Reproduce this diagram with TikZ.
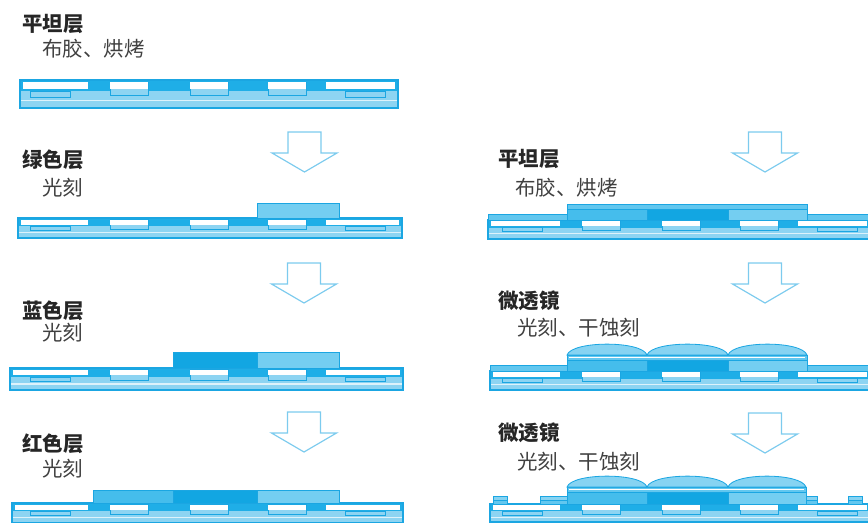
\documentclass[tikz,border=0pt]{standalone}
\usepackage{fontspec}
\newfontfamily\cjk{Noto Sans CJK SC}
\usetikzlibrary{positioning}

\definecolor{edge}{HTML}{1BA6E2}
\definecolor{topfill}{HTML}{1FAEE7}
\definecolor{lowfill}{HTML}{8DD4F2}
\definecolor{cfred}{HTML}{45BDEC}
\definecolor{cfblue}{HTML}{12A6E2}
\definecolor{cfgreen}{HTML}{74CEF1}
\definecolor{planar}{HTML}{62C7EF}
\definecolor{lensfill}{HTML}{86D3F2}
\definecolor{flowline}{HTML}{7CCBEE}

\tikzset{
  title/.style={anchor=west, inner sep=0pt, text=black!85,
    font=\cjk\bfseries\fontsize{17.5}{18}\selectfont},
  note/.style={anchor=west, inner sep=0pt, text=black!75,
    font=\cjk\fontsize{17.5}{18}\selectfont},
  thinedge/.style={draw=edge, line width=0.5pt},
  layer/.style={draw=edge, line width=0.7pt},
  redcf/.style={layer, fill=cfred},
  bluecf/.style={layer, fill=cfblue},
  greencf/.style={layer, fill=cfgreen},
  planarcoat/.style={layer, fill=planar},
  lens/.style={layer, fill=lensfill},
  flow/.style={draw=flowline, fill=white, line width=1pt, line join=miter},
}

% wafer section: left x, right x, top y, pad offset, height scale
\newcommand\substrate[5]{%
  \begin{scope}[shift={(0,#3)}, yscale=#5]
    \fill[lowfill] (#1,0) rectangle (#2,20);
    \fill[topfill] (#1,0) rectangle (#2,8);
    \fill[white!70!lowfill] (#1,14) rectangle (#2,15);
    \draw[thinedge] (#4+30,8) rectangle (#4+70,12);
    \draw[thinedge] (#4+345,8) rectangle (#4+385,12);
    \foreach \a in {110,190,268}{
      \filldraw[thinedge, fill=lowfill] (#4+\a,1.5) rectangle (#4+\a+38,11);
      \fill[white] (#4+\a,1.5) rectangle (#4+\a+38,6.5);
    }
    \fill[white] (#1+3,1.5) rectangle (#4+88,6.5);
    \fill[white] (#4+326,1.5) rectangle (#2-3,6.5);
    \draw[edge, line width=1.1pt] (#1,0) rectangle (#2,20);
  \end{scope}}

\begin{document}
\begin{tikzpicture}[x=0.03cm, y=-0.03cm]
  \useasboundingbox (0,0) rectangle (868,522);
  \clip (0,0) rectangle (868,522);

  % left column
  \node[title] (t1) at (22,24) {平坦层};
  \node[note] (n1) at (42,49) {布胶、烘烤};
  \substrate{20}{398}{80}{0}{1.4}

  \node[title] (t2) at (22,160) {绿色层};
  \node[note] (n2) at (42,188) {光刻};
  \substrate{18}{402}{218}{0}{1}
  \draw[greencf] (257,203) rectangle (339,218);

  \node[title] (t3) at (22,311) {蓝色层};
  \node[note] (n3) at (42,333) {光刻};
  \substrate{10}{403}{368}{0}{1.1}
  \draw[bluecf] (173,352) rectangle (257,368);
  \draw[greencf] (257,352) rectangle (339,368);

  \node[title] (t4) at (22,444) {红色层};
  \node[note] (n4) at (42,469) {光刻};
  \substrate{12}{403}{503}{0}{1}
  \draw[redcf] (93,490) rectangle (173,503);
  \draw[bluecf] (173,490) rectangle (257,503);
  \draw[greencf] (257,490) rectangle (339,503);

  % right column
  \node[title] (t5) at (498,159) {平坦层};
  \node[note] (n5) at (515,188) {布胶、烘烤};
  \substrate{488}{870}{220}{472}{0.95}
  \draw[planarcoat] (488,214) rectangle (870,220);
  \draw[redcf] (567,209) rectangle (647,220);
  \draw[bluecf] (647,209) rectangle (728,220);
  \draw[greencf] (728,209) rectangle (807,220);
  \draw[planarcoat] (567,204) rectangle (807,209);

  \node[title] (t6) at (498,301) {微透镜};
  \node[note] (n6) at (517,328) {光刻、干蚀刻};
  \substrate{490}{870}{371}{472}{0.95}
  \draw[planarcoat] (490,365) rectangle (870,371);
  \draw[redcf] (567,360) rectangle (647,371);
  \draw[bluecf] (647,360) rectangle (728,371);
  \draw[greencf] (728,360) rectangle (807,371);
  \draw[planarcoat] (567,355) rectangle (807,360);
  \draw[white, line width=0.8pt] (569,357.5) -- (805,357.5);
  \foreach \a/\b in {567/647,647/728,728/807}
    \filldraw[lens] (\a,355) .. controls (\a+5,340.5) and (\b-5,340.5) .. (\b,355) -- cycle;

  \node[title] (t7) at (498,433) {微透镜};
  \node[note] (n7) at (517,462) {光刻、干蚀刻};
  \substrate{490}{870}{504}{472}{0.9}
  \foreach \a/\b in {493/507,540/567,806/817,848/862}{
    \draw[planarcoat] (\a,500) rectangle (\b,504);
    \draw[lens] (\a,496) rectangle (\b,500);
  }
  \draw[redcf] (567,492) rectangle (647,504);
  \draw[bluecf] (647,492) rectangle (728,504);
  \draw[greencf] (728,492) rectangle (806,504);
  \draw[planarcoat] (567,487) rectangle (806,492);
  \draw[white, line width=0.8pt] (569,489.5) -- (804,489.5);
  \foreach \a/\b in {567/647,647/728,728/806}
    \filldraw[lens] (\a,487) .. controls (\a+5,472.5) and (\b-5,472.5) .. (\b,487) -- cycle;

  % process arrows
  \foreach \cx/\ty in {304.5/132,304/263,304/412,765/132,765/263,765/413}
    \draw[flow] (\cx-16.5,\ty) -- (\cx+16.5,\ty) -- (\cx+16.5,\ty+21)
      -- (\cx+32.5,\ty+21) -- (\cx,\ty+40) -- (\cx-32.5,\ty+21)
      -- (\cx-16.5,\ty+21) -- cycle;
\end{tikzpicture}
\end{document}
